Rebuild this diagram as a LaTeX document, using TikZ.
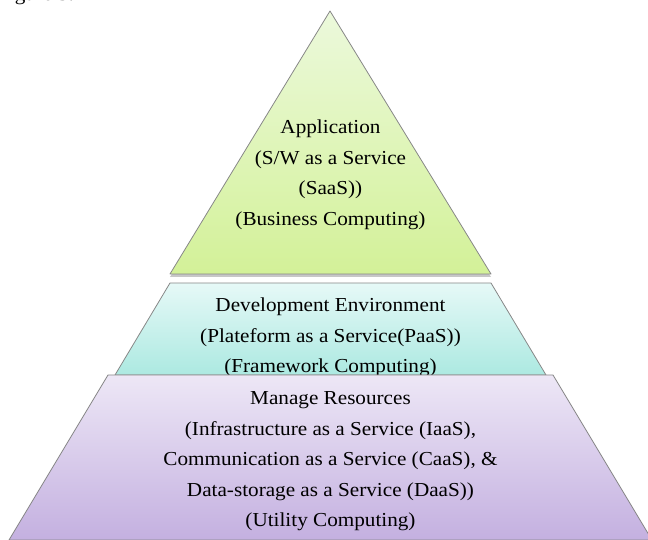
\documentclass[tikz,border=0pt]{standalone}
\usepackage{fontspec}
\setmainfont{Liberation Serif}[FakeStretch=1.07]
\usetikzlibrary{shadows}

\definecolor{appTop}{RGB}{236,249,220}
\definecolor{appBot}{RGB}{211,241,152}
\definecolor{devTop}{RGB}{230,249,247}
\definecolor{devBot}{RGB}{172,233,225}
\definecolor{resTop}{RGB}{237,231,246}
\definecolor{resBot}{RGB}{196,176,224}
\definecolor{edge}{RGB}{135,135,135}

\tikzset{
  layer/.style={draw=edge, line width=0.8pt, line join=round},
  layertext/.style={align=center, inner sep=0pt, anchor=base,
    font=\fontsize{19.8}{30.5}\selectfont},
  layershadow/.style={drop shadow={shadow xshift=0pt, shadow yshift=-3pt,
    fill=black, opacity=0.22}},
}

\begin{document}
\begin{tikzpicture}[x=1pt,y=1pt]
  \useasboundingbox (0,0) rectangle (648,540);

  \coordinate (apex) at (330,529);
  \coordinate (a1) at (170,266);
  \coordinate (a2) at (491,266);

  \coordinate (b1) at (170,257);
  \coordinate (b2) at (491,257);
  \coordinate (b3) at (546,165);
  \coordinate (b4) at (115,165);

  \coordinate (c1) at (108,165);
  \coordinate (c2) at (553,165);
  \coordinate (c3) at (652,0);
  \coordinate (c4) at (9,0);

  % caption cut at the top edge
  \node[anchor=base west, inner sep=0pt, font=\fontsize{19.8}{24}\selectfont]
    (caption) at (-3,539) {Figure 3:};

  % application layer (base = last line)
  \draw[layer, layershadow, top color=appTop, bottom color=appBot]
    (apex) -- (a2) -- (a1) -- cycle;
  \node[layertext] (app) at (330.5,314.5)
    {Application\\(S/W as a Service\\(SaaS))\\(Business Computing)};

  % development layer
  \draw[layer, layershadow, top color=devTop, bottom color=devBot]
    (b1) -- (b2) -- (b3) -- (b4) -- cycle;
  \node[layertext] (dev) at (330.5,167)
    {Development Environment\\(Plateform as a Service(PaaS))\\(Framework Computing)};

  % resources layer
  \draw[layer, top color=resTop, bottom color=resBot]
    (c1) -- (c2) -- (c3) -- (c4) -- cycle;
  \node[layertext] (res) at (330.5,13)
    {Manage Resources\\(Infrastructure as a Service (IaaS),\\Communication as a Service (CaaS), \&\\Data-storage as a Service (DaaS))\\(Utility Computing)};
\end{tikzpicture}
\end{document}
